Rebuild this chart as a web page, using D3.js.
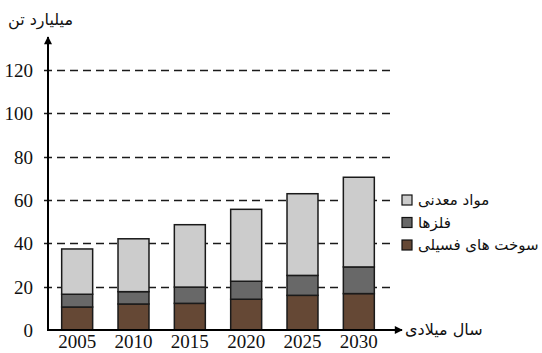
<!DOCTYPE html>
<html><head><meta charset="utf-8">
<script src="https://cdn.jsdelivr.net/npm/d3@7"></script>
<style>body{margin:0;background:#fff}svg{display:block}</style>
</head><body>
<svg id="c" width="542" height="353"></svg>
<script>
const years = ["2005","2010","2015","2020","2025","2030"];
const fossil = [10.6, 12.0, 12.3, 14.2, 16.0, 16.8];
const metals = [5.9, 5.7, 7.5, 8.3, 9.2, 12.3];
const minerals = [20.9, 24.4, 28.8, 33.2, 37.7, 41.4];
const yTicks = [0, 20, 40, 60, 80, 100, 120];
const seriesNames = ["سوخت های فسیلی", "فلزها", "مواد معدنی"];
const seriesColors = ["#654835", "#686868", "#cccccc"];
const yTitle = "میلیارد تن";
const xTitle = "سال میلادی";

const svg = d3.select("#c");
const x0 = 48, yBase = 330;
const y = d3.scaleLinear().domain([0, 120]).range([yBase, 70]);
const x = d3.scaleBand().domain(years).range([49, 387]).paddingInner(0.45).paddingOuter(0.225);

const serif = "'Liberation Serif','Times New Roman',serif";
const fa = "'DejaVu Sans',sans-serif";

// gridlines
svg.append("g").selectAll("line").data(yTicks.filter(d => d > 0)).join("line")
  .attr("x1", x0 - 4).attr("x2", 390).attr("y1", d => Math.round(y(d)) + 0.5).attr("y2", d => Math.round(y(d)) + 0.5)
  .attr("stroke", "#1a1a1a").attr("stroke-width", 1.6).attr("stroke-dasharray", "8,5");

// stacked bars
const data = years.map((yr, i) => ({yr, vals: [fossil[i], metals[i], minerals[i]]}));
const stack = d3.stack().keys([0,1,2]).value((d, k) => d.vals[k]);
const layers = stack(data);
layers.forEach((layer, k) => {
  svg.append("g").selectAll("rect").data(layer).join("rect")
    .attr("x", d => x(d.data.yr)).attr("width", x.bandwidth())
    .attr("y", d => y(d[1])).attr("height", d => y(d[0]) - y(d[1]))
    .attr("fill", seriesColors[k]).attr("stroke", "#1a1a1a").attr("stroke-width", 1.5);
});

// axes
const yAxis = d3.axisLeft(y).tickValues(yTicks).tickSize(0).tickPadding(15);
const gy = svg.append("g").attr("transform", `translate(${x0},0)`).call(yAxis);
gy.select(".domain").remove();
gy.selectAll("text").attr("font-family", serif).attr("font-size", 19).attr("fill", "#111").attr("dy", "0.35em");

const xAxis = d3.axisBottom(x).tickSize(0).tickPadding(4);
const gx = svg.append("g").attr("transform", `translate(0,${yBase})`).call(xAxis);
gx.select(".domain").remove();
gx.selectAll("text").attr("font-family", serif).attr("font-size", 19).attr("fill", "#111").attr("dy", "0.72em");

// axis lines with arrows
svg.append("defs").append("marker").attr("id", "arr").attr("viewBox", "0 0 10 10")
  .attr("refX", 9).attr("refY", 5).attr("markerWidth", 10).attr("markerHeight", 8)
  .attr("markerUnits", "userSpaceOnUse").attr("orient", "auto")
  .append("path").attr("d", "M0,0L10,5L0,10z").attr("fill", "#000");
svg.append("line").attr("x1", x0).attr("x2", x0).attr("y1", yBase + 1).attr("y2", 37)
  .attr("stroke", "#000").attr("stroke-width", 2).attr("marker-end", "url(#arr)");
svg.append("line").attr("x1", x0 - 1).attr("x2", 402).attr("y1", yBase).attr("y2", yBase)
  .attr("stroke", "#000").attr("stroke-width", 2).attr("marker-end", "url(#arr)");

// titles
svg.append("text").attr("x", 8).attr("y", 25).attr("font-family", fa).attr("font-size", 16)
  .attr("fill", "#111").text(yTitle);
svg.append("text").attr("x", 405).attr("y", 335).attr("font-family", fa).attr("font-size", 16)
  .attr("fill", "#111").text(xTitle);

// legend
const legOrder = [2, 1, 0];
const lg = svg.append("g");
legOrder.forEach((k, i) => {
  const yy = 195 + i * 22.5;
  lg.append("rect").attr("x", 402).attr("y", yy).attr("width", 10).attr("height", 10)
    .attr("fill", seriesColors[k]).attr("stroke", "#111").attr("stroke-width", 1.2);
  lg.append("text").attr("x", 418).attr("y", yy + 10).attr("font-family", fa).attr("font-size", 15)
    .attr("fill", "#111").text(seriesNames[k]);
});
</script>
</body></html>
